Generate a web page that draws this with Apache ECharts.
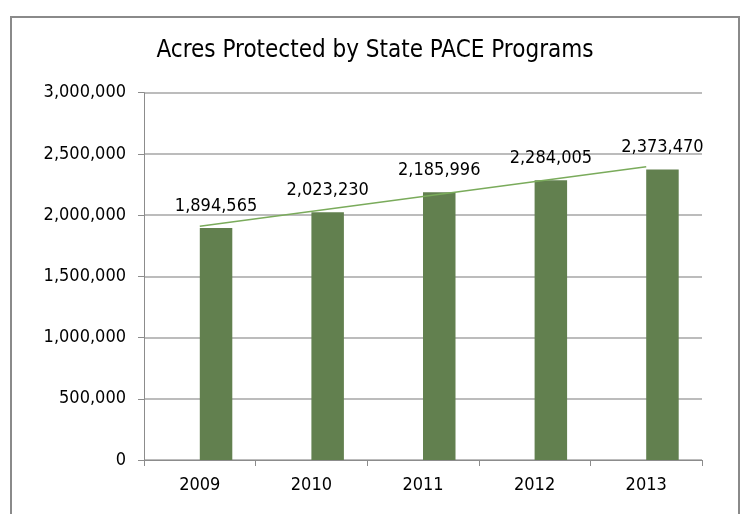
<!DOCTYPE html>
<html>
<head>
<meta charset="utf-8">
<script src="https://cdn.jsdelivr.net/npm/echarts@6/dist/echarts.min.js"></script>
<style>
html,body{margin:0;padding:0;background:#fff;}
#chart{width:742px;height:514px;}
</style>
</head>
<body>
<div id="chart"></div>
<script>
var titleText = 'Acres Protected by State PACE Programs';
var years = ['2009', '2010', '2011', '2012', '2013'];
var acres = [1894565, 2023230, 2185996, 2284005, 2373470];
// linear trendline end values
var trend = [1908500, null, null, null, 2396000];
var yTicks = { min: 0, max: 3000000, interval: 500000 };

var FONT = "'DejaVu Sans Condensed', 'DejaVu Sans', sans-serif";
function fmt(v) { return String(v).replace(/\B(?=(\d{3})+(?!\d))/g, ','); }

var chart = echarts.init(document.getElementById('chart'), null, { renderer: 'canvas' });
chart.setOption({
  animation: false,
  backgroundColor: '#ffffff',
  textStyle: { fontFamily: FONT },
  title: {
    text: titleText,
    left: 370, top: 34, textAlign: 'center',
    textStyle: { fontFamily: FONT, fontSize: 24, fontWeight: 'normal', color: '#000' }
  },
  graphic: [{
    type: 'rect', shape: { x: 11, y: 17, width: 728, height: 520 },
    style: { fill: null, stroke: '#8a8a8a', lineWidth: 2 }, silent: true, z: -1
  }],
  grid: { left: 144, right: 40, top: 92.7, bottom: 54, containLabel: false },
  xAxis: {
    type: 'category', data: years, boundaryGap: true,
    axisLine: { lineStyle: { color: '#8c8c8c', width: 1 } },
    axisTick: { show: true, length: 6, alignWithLabel: false, lineStyle: { color: '#8c8c8c' } },
    axisLabel: { fontFamily: FONT, fontSize: 18, color: '#000', margin: 16 }
  },
  yAxis: {
    type: 'value', min: yTicks.min, max: yTicks.max, interval: yTicks.interval,
    axisLine: { show: true, lineStyle: { color: '#8c8c8c', width: 1 } },
    axisTick: { show: true, length: 6, lineStyle: { color: '#8c8c8c' } },
    splitLine: { lineStyle: { color: '#a6a6a6', width: 1.5 } },
    axisLabel: { fontFamily: FONT, fontSize: 18, color: '#000', margin: 18, formatter: fmt }
  },
  series: [
    { type: 'bar', name: 'blank', data: years.map(function(){ return '-'; }), barWidth: 32.5, barGap: '0%' },
    {
      type: 'bar', name: 'Acres', data: acres, barWidth: 32.5, barGap: '0%',
      itemStyle: { color: '#62804f' },
      label: { show: true, position: 'top', distance: 13, fontFamily: FONT, fontSize: 18, color: '#000', formatter: function(p){ return fmt(p.value); } }
    },
    {
      type: 'line', name: 'Trend', data: trend, connectNulls: true, symbol: 'none',
      lineStyle: { color: '#7aab5b', width: 1.5 }, z: 5
    }
  ]
});
</script>
</body>
</html>
